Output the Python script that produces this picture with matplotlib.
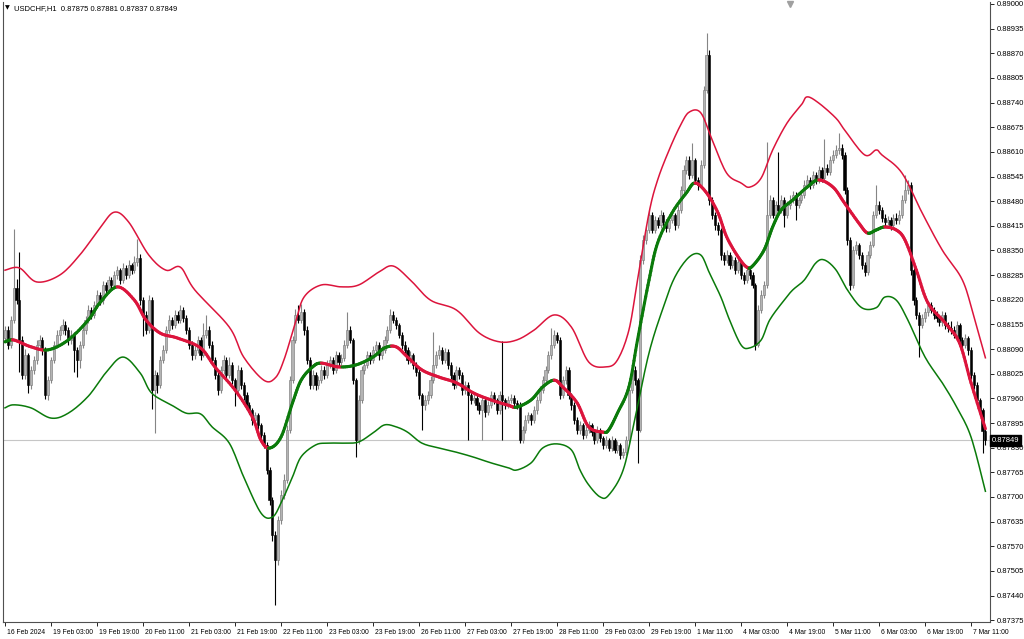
import numpy as np
import matplotlib
matplotlib.use("Agg")
import matplotlib.pyplot as plt
import matplotlib.transforms as mtransforms
from matplotlib.collections import LineCollection

# ---------------- data (prices in points above 0.87000, 1 point = 0.00001) ----------------
title_text = "USDCHF,H1  0.87875 0.87881 0.87837 0.87849"
base_price = 0.87
point = 1e-5
first_open_pts = 1120

close_pts = [
    1140, 1101, 1167, 1251, 1219, 1114, 1022,
    1074, 995, 1035, 1061, 1101, 1114, 1088,
    969, 1008, 1061, 1101, 1127, 1140, 1153,
    1140, 1114, 1127, 1088, 1061, 1101, 1140,
    1167, 1193, 1180, 1206, 1233, 1219, 1259,
    1246, 1272, 1259, 1285, 1298, 1272, 1304,
    1285, 1312, 1298, 1320, 1330, 1219, 1180,
    1140, 1219, 982, 1022, 995, 1061, 1088,
    1140, 1167, 1153, 1180, 1167, 1193, 1172,
    1140, 1101, 1074, 1088, 1114, 1074, 1127,
    1140, 1101, 1061, 1022, 982, 1035, 1061,
    1022, 1048, 1008, 982, 1035, 995, 969,
    942, 929, 903, 916, 890, 863, 837,
    771, 692, 600, 534, 639, 705, 745,
    877, 1008, 1114, 1180, 1167, 1188, 1140,
    1061, 995, 1022, 995, 1008, 1035, 1022,
    1048, 1061, 1035, 1074, 1056, 1066, 1101,
    1140, 1114, 1008, 850, 956, 1035, 1048,
    1074, 1061, 1088, 1101, 1074, 1088, 1114,
    1140, 1180, 1167, 1153, 1127, 1101, 1088,
    1061, 1074, 1048, 1030, 969, 942, 956,
    969, 1008, 1048, 1074, 1088, 1061, 1082,
    1048, 1022, 995, 1035, 1022, 982, 995,
    969, 956, 961, 942, 929, 956, 924,
    942, 969, 956, 929, 969, 956, 942,
    956, 961, 948, 942, 850, 877, 903,
    916, 903, 929, 956, 982, 1008, 1035,
    1074, 1101, 1127, 1114, 969, 1008, 1035,
    969, 942, 903, 877, 890, 863, 877,
    890, 871, 850, 877, 856, 837, 850,
    829, 850, 824, 837, 811, 818, 850,
    982, 1035, 1008, 877, 1325, 1378, 1404,
    1444, 1404, 1430, 1417, 1444, 1425, 1409,
    1430, 1444, 1417, 1457, 1509, 1562, 1589,
    1549, 1589, 1536, 1523, 1575, 1773, 1865,
    1483, 1444, 1417, 1404, 1338, 1325, 1338,
    1312, 1325, 1298, 1320, 1285, 1272, 1298,
    1285, 1259, 1101, 1193, 1233, 1259, 1444,
    1483, 1444, 1470, 1457, 1483, 1444, 1470,
    1483, 1496, 1470, 1483, 1496, 1523, 1536,
    1523, 1549, 1536, 1562, 1541, 1567, 1557,
    1589, 1602, 1615, 1620, 1602, 1509, 1378,
    1259, 1351, 1364, 1338, 1312, 1293, 1338,
    1364, 1444, 1470, 1457, 1436, 1425, 1430,
    1417, 1436, 1430, 1444, 1483, 1509, 1523,
    1298, 1219, 1180, 1153, 1172, 1188, 1206,
    1193, 1180, 1172, 1161, 1180, 1153, 1146,
    1140, 1127, 1153, 1114, 1101, 1119, 1088,
    1022, 995, 956, 929, 875, 849,
]

high_pts = [
    1152, 1150, 1178, 1406, 1275, 1346, 1125,
    1090, 1080, 1045, 1072, 1115, 1128, 1122,
    1095, 1018, 1070, 1112, 1140, 1150, 1168,
    1163, 1148, 1140, 1135, 1096, 1112, 1150,
    1178, 1205, 1200, 1218, 1246, 1240, 1270,
    1268, 1282, 1280, 1296, 1310, 1305, 1318,
    1312, 1325, 1318, 1335, 1380, 1340, 1228,
    1190, 1232, 1228, 1035, 1030, 1072, 1100,
    1150, 1180, 1175, 1192, 1190, 1205, 1200,
    1180, 1148, 1110, 1098, 1125, 1122, 1160,
    1180, 1150, 1110, 1070, 1030, 1045, 1075,
    1068, 1070, 1055, 1015, 1048, 1042, 1002,
    978, 950, 935, 925, 922, 896, 870,
    845, 778, 700, 610, 650, 718, 760,
    890, 1020, 1125, 1195, 1206, 1210, 1195,
    1150, 1068, 1035, 1030, 1020, 1048, 1045,
    1060, 1072, 1068, 1085, 1082, 1078, 1115,
    1188, 1150, 1120, 1015, 968, 1045, 1060,
    1085, 1082, 1098, 1112, 1108, 1098, 1125,
    1150, 1195, 1190, 1175, 1160, 1135, 1110,
    1095, 1085, 1080, 1056, 1038, 975, 968,
    980, 1018, 1135, 1085, 1100, 1095, 1092,
    1090, 1055, 1030, 1045, 1042, 1030, 1005,
    1002, 978, 972, 968, 950, 965, 962,
    952, 980, 978, 962, 980, 1111, 962,
    966, 972, 968, 955, 950, 888, 915,
    925, 922, 940, 966, 992, 1020, 1046,
    1085, 1146, 1140, 1135, 1122, 1020, 1045,
    1042, 975, 950, 910, 900, 896, 888,
    900, 896, 878, 888, 882, 862, 860,
    856, 860, 856, 848, 842, 830, 862,
    995, 1048, 1045, 1015, 1338, 1390, 1417,
    1456, 1452, 1440, 1438, 1456, 1452, 1432,
    1440, 1456, 1450, 1470, 1520, 1575, 1600,
    1598, 1633, 1595, 1545, 1588, 1785, 1923,
    1878, 1490, 1452, 1425, 1410, 1345, 1350,
    1345, 1335, 1332, 1330, 1326, 1292, 1308,
    1305, 1292, 1265, 1205, 1245, 1270, 1636,
    1495, 1492, 1480, 1610, 1495, 1490, 1480,
    1495, 1508, 1505, 1492, 1508, 1535, 1548,
    1545, 1560, 1556, 1572, 1570, 1645, 1578,
    1600, 1615, 1628, 1660, 1630, 1610, 1518,
    1385, 1362, 1375, 1370, 1345, 1320, 1348,
    1375, 1455, 1523, 1480, 1465, 1445, 1440,
    1438, 1446, 1448, 1456, 1495, 1549, 1535,
    1530, 1305, 1228, 1188, 1182, 1198, 1218,
    1215, 1200, 1190, 1180, 1190, 1188, 1162,
    1165, 1150, 1165, 1160, 1122, 1130, 1125,
    1095, 1030, 1002, 962, 935, 881,
]

low_pts = [
    1110, 1090, 1094, 1160, 1210, 1030, 1010,
    1012, 974, 985, 1025, 1050, 1090, 1075,
    958, 955, 1000, 1052, 1094, 1115, 1130,
    1128, 1100, 1104, 1030, 1017, 1040, 1092,
    1130, 1158, 1168, 1172, 1198, 1205, 1210,
    1235, 1238, 1248, 1250, 1276, 1262, 1265,
    1275, 1278, 1288, 1290, 1310, 1205, 1125,
    1130, 1132, 932, 869, 975, 988, 1052,
    1080, 1132, 1142, 1145, 1158, 1160, 1162,
    1130, 1090, 1060, 1065, 1080, 1062, 1068,
    1118, 1092, 1050, 1010, 968, 975, 1025,
    1012, 1015, 998, 940, 975, 985, 955,
    930, 918, 890, 895, 880, 850, 828,
    760, 680, 585, 415, 520, 628, 695,
    738, 868, 1000, 1105, 1158, 1160, 1128,
    1050, 985, 985, 982, 985, 1000, 1012,
    1015, 1040, 1025, 1028, 1045, 1048, 1058,
    1092, 1105, 998, 805, 840, 948, 1025,
    1040, 1050, 1052, 1080, 1062, 1065, 1080,
    1105, 1132, 1158, 1142, 1118, 1090, 1078,
    1050, 1052, 1038, 1020, 958, 877, 930,
    945, 960, 1000, 1040, 1065, 1050, 1052,
    1038, 1012, 985, 988, 1010, 970, 972,
    850, 945, 948, 930, 918, 850, 912,
    915, 935, 945, 918, 920, 850, 932,
    935, 948, 938, 932, 842, 842, 868,
    895, 890, 895, 920, 948, 975, 1000,
    1028, 1065, 1092, 1105, 958, 960, 998,
    958, 930, 892, 865, 866, 852, 855,
    868, 862, 840, 842, 846, 826, 828,
    820, 822, 815, 815, 800, 802, 810,
    842, 975, 995, 790, 870, 1315, 1368,
    1396, 1395, 1396, 1408, 1410, 1415, 1398,
    1400, 1422, 1405, 1410, 1450, 1500, 1552,
    1538, 1540, 1525, 1510, 1515, 1568, 1765,
    1470, 1432, 1405, 1392, 1325, 1312, 1318,
    1300, 1305, 1288, 1290, 1275, 1262, 1265,
    1275, 1250, 1088, 1095, 1185, 1225, 1250,
    1435, 1435, 1436, 1448, 1448, 1412, 1436,
    1460, 1475, 1430, 1462, 1475, 1488, 1515,
    1512, 1515, 1525, 1528, 1530, 1532, 1548,
    1550, 1580, 1595, 1605, 1592, 1498, 1365,
    1246, 1250, 1340, 1328, 1300, 1282, 1285,
    1330, 1358, 1436, 1446, 1425, 1415, 1418,
    1405, 1410, 1420, 1420, 1436, 1475, 1500,
    1285, 1205, 1170, 1069, 1145, 1162, 1178,
    1185, 1170, 1162, 1150, 1152, 1142, 1135,
    1130, 1118, 1120, 1100, 1090, 1092, 1075,
    1010, 985, 945, 918, 815, 837,
]

# band indicator values (bar index, points)
upper_idx = [0, 5, 11, 19, 26, 33, 38, 43, 50, 56, 61, 66, 78, 83, 90, 94, 97, 101, 104,
             110, 117, 123, 130, 135, 141, 148, 157, 165, 172, 178, 184, 191, 197, 203,
             209, 213, 217, 220, 224, 227, 231, 235, 238, 242, 246, 251, 256, 259, 263,
             267, 272, 277, 279, 283, 289, 292, 299, 303, 305, 312, 319, 326, 333, 337, 341]
upper_pts = [1298, 1304, 1267, 1285, 1338, 1409, 1451, 1425, 1338, 1298, 1306, 1246, 1148,
             1069, 1008, 1014, 1061, 1159, 1227, 1259, 1254, 1259, 1293, 1309, 1272, 1219,
             1193, 1132, 1109, 1114, 1140, 1180, 1148, 1056, 1043, 1061, 1140, 1272, 1449,
             1536, 1615, 1681, 1715, 1713, 1641, 1554, 1528, 1517, 1541, 1615, 1686, 1734,
             1755, 1739, 1699, 1668, 1602, 1615, 1602, 1554, 1449, 1351, 1272, 1175, 1067]

mid_idx = [0, 3, 9, 15, 22, 29, 33, 39, 45, 49, 54, 60, 68, 73, 80, 86, 89, 92, 96, 100,
           103, 107, 110, 116, 122, 128, 132, 136, 140, 145, 151, 157, 163, 169, 175, 178,
           183, 187, 191, 194, 199, 203, 208, 210, 213, 217, 220, 224, 227, 232, 237, 240,
           244, 248, 251, 255, 258, 260, 264, 267, 270, 274, 279, 283, 288, 292, 297, 300,
           303, 306, 310, 313, 317, 321, 327, 332, 336, 341]
mid_pts = [1109, 1114, 1096, 1088, 1114, 1167, 1212, 1254, 1219, 1167, 1132, 1119, 1093,
           1043, 982, 911, 850, 829, 858, 948, 1008, 1043, 1053, 1043, 1048, 1069, 1093,
           1096, 1069, 1035, 1016, 1001, 974, 956, 942, 937, 956, 990, 1008, 990, 948, 885,
           871, 877, 921, 990, 1114, 1272, 1370, 1449, 1502, 1528, 1502, 1449, 1386, 1333,
           1306, 1309, 1351, 1412, 1457, 1483, 1517, 1536, 1517, 1475, 1422, 1396, 1404,
           1412, 1404, 1378, 1298, 1212, 1159, 1106, 1001, 880]

lower_idx = [0, 3, 9, 16, 22, 29, 35, 41, 47, 51, 58, 63, 68, 72, 78, 83, 89, 93, 96, 100,
             103, 108, 112, 118, 123, 128, 132, 136, 140, 145, 151, 157, 163, 169, 175, 178,
             183, 187, 192, 197, 200, 203, 207, 210, 215, 219, 224, 229, 233, 238, 242, 245,
             249, 252, 256, 259, 263, 266, 271, 274, 278, 282, 285, 289, 293, 298, 303, 306,
             310, 314, 320, 326, 331, 336, 341]
lower_pts = [935, 943, 935, 908, 921, 966, 1027, 1069, 1027, 974, 942, 921, 919, 885, 842,
             753, 658, 647, 684, 753, 806, 837, 842, 842, 845, 869, 890, 885, 871, 842, 829,
             818, 805, 790, 777, 771, 790, 829, 840, 824, 771, 732, 700, 705, 771, 903, 1080,
             1201, 1280, 1333, 1338, 1291, 1227, 1167, 1101, 1093, 1114, 1167, 1219, 1246,
             1272, 1317, 1325, 1299, 1246, 1199, 1199, 1227, 1219, 1167, 1069, 1001, 937,
             858, 715]

x_tick_labels = ["16 Feb 2024", "19 Feb 03:00", "19 Feb 19:00", "20 Feb 11:00",
                 "21 Feb 03:00", "21 Feb 19:00", "22 Feb 11:00", "23 Feb 03:00",
                 "23 Feb 19:00", "26 Feb 11:00", "27 Feb 03:00", "27 Feb 19:00",
                 "28 Feb 11:00", "29 Feb 03:00", "29 Feb 19:00", "1 Mar 11:00",
                 "4 Mar 03:00", "4 Mar 19:00", "5 Mar 11:00", "6 Mar 03:00",
                 "6 Mar 19:00", "7 Mar 11:00"]
bars_per_label = 16
y_top_tick = 0.89000
y_tick_step = 0.00065
n_y_ticks = 26

# ---------------- helpers ----------------
def to_price(a):
    return base_price + np.asarray(a, dtype=float) * point


def smooth_path(xs, ys, n=10):
    """Catmull-Rom curve drawn through the read points (rendering only)."""
    xs = np.asarray(xs, float)
    ys = np.asarray(ys, float)
    P = np.column_stack([xs, ys])
    P = np.vstack([P[0], P, P[-1]])
    out = []
    t = np.linspace(0, 1, n, endpoint=False)[:, None]
    for k in range(1, len(P) - 2):
        p0, p1, p2, p3 = P[k - 1], P[k], P[k + 1], P[k + 2]
        seg = 0.5 * ((2 * p1) + (-p0 + p2) * t + (2 * p0 - 5 * p1 + 4 * p2 - p3) * t ** 2
                     + (-p0 + 3 * p1 - 3 * p2 + p3) * t ** 3)
        out.append(seg)
    out.append(P[-2][None, :])
    res = np.vstack(out)
    return res[:, 0], res[:, 1]


close = to_price(close_pts)
high = to_price(high_pts)
low = to_price(low_pts)
opn = np.r_[to_price([first_open_pts]), close[:-1]]
high = np.maximum(high, np.maximum(opn, close))
low = np.minimum(low, np.minimum(opn, close))
idx = np.arange(len(close))
bull = close >= opn

FONT = ['Liberation Sans', 'DejaVu Sans']
plt.rcParams['font.family'] = FONT
fig = plt.figure(figsize=(10.24, 6.39), dpi=100)
fig.patch.set_facecolor('white')
ax = fig.add_axes([3 / 1024, 1 - 622 / 639, 987 / 1024, 620 / 639])
ax.set_facecolor('white')

last_price = close[-1]
ax.axhline(last_price, color='#c6c6c6', lw=0.8, zorder=0)

RED = '#DC143C'
GREEN = '#0A7A0A'

# wicks
ax.vlines(idx[bull], low[bull], high[bull], color='#858585', lw=0.8, zorder=2)
ax.vlines(idx[~bull], low[~bull], high[~bull], color='black', lw=0.8, zorder=2)
# bodies
body_lo = np.minimum(opn, close)
body_h = np.maximum(np.abs(close - opn), 1.2e-5)
ax.bar(idx[bull], body_h[bull], bottom=body_lo[bull], width=0.75,
       color='#b4b4b4', edgecolor='#757575', linewidth=0.4, zorder=3)
ax.bar(idx[~bull], body_h[~bull], bottom=body_lo[~bull], width=0.75,
       color='black', edgecolor='black', linewidth=0.4, zorder=3)

# bands
ux, uy = smooth_path(upper_idx, to_price(upper_pts))
ax.plot(ux, uy, color=RED, lw=1.1, zorder=4)
lx, ly = smooth_path(lower_idx, to_price(lower_pts))
ax.plot(lx, ly, color=GREEN, lw=1.1, zorder=4)
mx, my = smooth_path(mid_idx, to_price(mid_pts))
segs = [[(mx[k], my[k]), (mx[k + 1], my[k + 1])] for k in range(len(mx) - 1)]
cols = [GREEN if my[k + 1] >= my[k] else RED for k in range(len(mx) - 1)]
lc = LineCollection(segs, colors=cols, linewidths=2.2, capstyle='round', zorder=5)
ax.add_collection(lc)

# axes limits
ax.set_xlim(-0.7, 342.6)
ax.set_ylim(0.873703, 0.890052)

# y axis on right
yt = y_top_tick - y_tick_step * np.arange(n_y_ticks)
ax.yaxis.tick_right()
ax.set_yticks(yt)
ax.set_yticklabels([f"{v:.5f}" for v in yt])
ax.tick_params(axis='y', length=3, width=0.6, colors='black', labelsize=5.5, pad=2)

# x axis
xt = np.arange(len(x_tick_labels)) * bars_per_label
ax.set_xticks(xt)
ax.set_xticklabels(x_tick_labels)
ax.tick_params(axis='x', length=3, width=0.6, labelsize=4.9, pad=2)
offset = mtransforms.ScaledTranslation(2 / 100, 0, fig.dpi_scale_trans)
for lbl in ax.get_xticklabels():
    lbl.set_ha('left')
    lbl.set_transform(lbl.get_transform() + offset)

ax.spines['top'].set_visible(False)
for s in ['left', 'right', 'bottom']:
    ax.spines[s].set_color('#505050')
    ax.spines[s].set_linewidth(0.8)

# title
ax.text(0.0025, 0.994, "\u25BC", transform=ax.transAxes, va='top', ha='left',
        fontsize=4.5, color='black', family=['DejaVu Sans'])
ax.text(0.011, 0.995, title_text, transform=ax.transAxes, va='top', ha='left',
        fontsize=5.5, color='black')

# chart shift marker
ax.plot([0.797], [0.997], marker='v', color='#a0a0a0', markersize=4,
        transform=ax.transAxes, clip_on=False)

# current price label
trans = mtransforms.blended_transform_factory(ax.transAxes, ax.transData)
ax.text(1.002, last_price, f"{last_price:.5f}", transform=trans, va='center', ha='left',
        fontsize=5.5, color='white', zorder=10,
        bbox=dict(boxstyle='square,pad=0.25', fc='black', ec='black'))

fig.savefig("out.png", dpi=100, facecolor='white')
